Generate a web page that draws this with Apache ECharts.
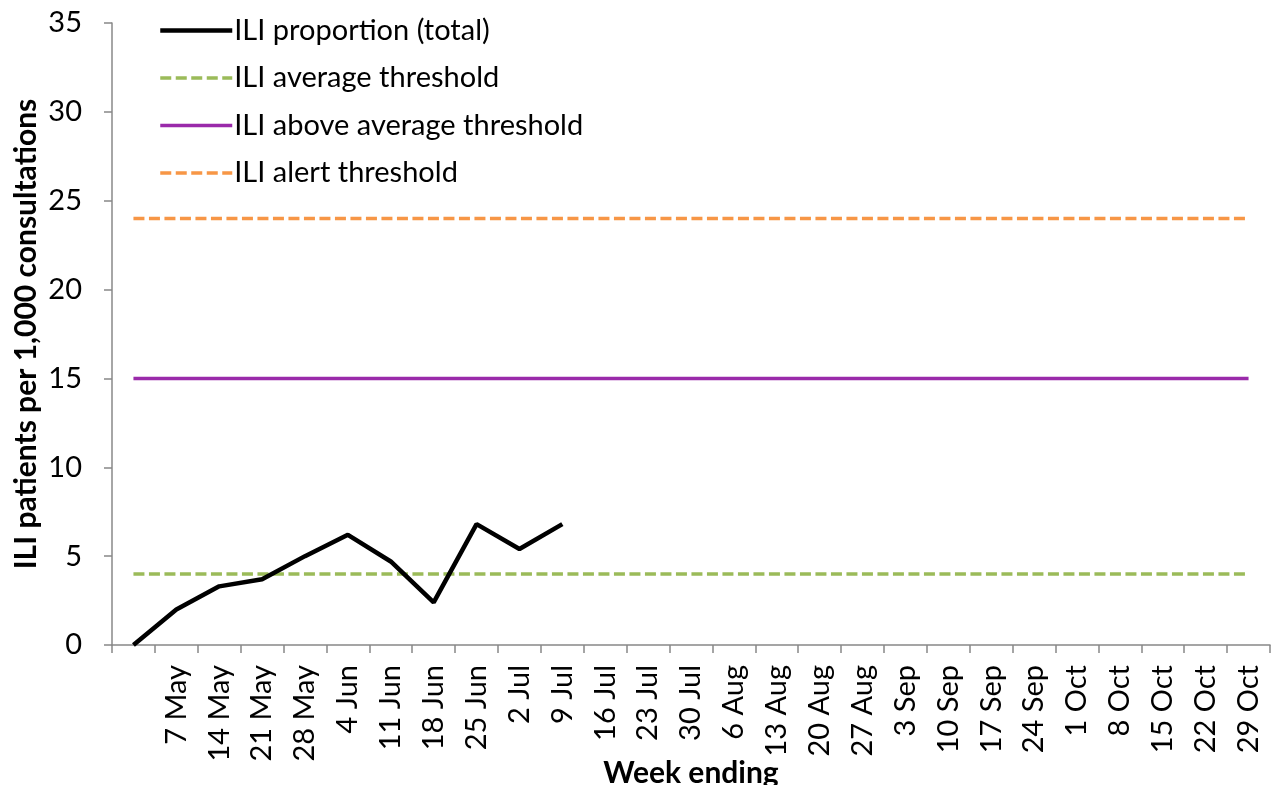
<!DOCTYPE html>
<html><head><meta charset="utf-8">
<script src="https://cdn.jsdelivr.net/npm/echarts@6/dist/echarts.min.js"></script>
<style>html,body{margin:0;padding:0;background:#fff}#c{width:1275px;height:785px}</style>
</head><body><div id="c"></div>
<script>
const weeks = ["", "7 May", "14 May", "21 May", "28 May", "4 Jun", "11 Jun", "18 Jun", "25 Jun", "2 Jul", "9 Jul", "16 Jul", "23 Jul", "30 Jul", "6 Aug", "13 Aug", "20 Aug", "27 Aug", "3 Sep", "10 Sep", "17 Sep", "24 Sep", "1 Oct", "8 Oct", "15 Oct", "22 Oct", "29 Oct"];
const iliTotal = [0, 2.0, 3.3, 3.7, 5.0, 6.2, 4.7, 2.4, 6.8, 5.4, 6.8];
const averageThreshold = 4.0;
const aboveAverageThreshold = 15.0;
const alertThreshold = 24.0;
const yTicks = [0, 5, 10, 15, 20, 25, 30, 35];

const FONT = 'Lato';
const axisGrey = '#888888';
const constSeries = v => weeks.map(() => v);

const chart = echarts.init(document.getElementById('c'), null, {renderer: 'canvas'});
chart.setOption({
  animation: false,
  backgroundColor: '#ffffff',
  textStyle: {fontFamily: FONT, color: '#000'},
  grid: {left: 112, right: 5, top: 23, bottom: 140, containLabel: false, outerBoundsMode: 'none'},
  legend: {
    orient: 'vertical', left: 153, top: 11,
    itemWidth: 72, itemHeight: 14, itemGap: 18.5,
    itemStyle: {opacity: 0},
    lineStyle: {width: 'inherit'},
    textStyle: {fontFamily: FONT, fontSize: 29, color: '#000', lineHeight: 29, padding: [0,0,0,-3]},
    data: ['ILI proportion (total)', 'ILI average threshold', 'ILI above average threshold', 'ILI alert threshold']
  },
  xAxis: {
    type: 'category', data: weeks, boundaryGap: true,
    name: 'Week ending', nameLocation: 'middle', nameGap: 113, nameMoveOverlap: false,
    nameTextStyle: {fontFamily: FONT, fontSize: 30, fontWeight: 'bold', color: '#000'},
    axisLine: {lineStyle: {color: axisGrey, width: 1.5}},
    axisTick: {show: true, length: 8, inside: false, lineStyle: {color: axisGrey, width: 1.5}},
    axisLabel: {interval: 0, rotate: 90, fontSize: 29, fontFamily: FONT, color: '#000', margin: 20},
    splitLine: {show: false}
  },
  yAxis: {
    type: 'value', min: 0, max: 35, interval: 5,
    name: 'ILI patients per 1,000 consultations', nameLocation: 'middle', nameGap: 71, nameMoveOverlap: false,
    nameTextStyle: {fontFamily: FONT, fontSize: 30, fontWeight: 'bold', color: '#000'},
    axisLine: {show: true, lineStyle: {color: axisGrey, width: 1.5}},
    axisTick: {show: true, length: 8, inside: false, lineStyle: {color: axisGrey, width: 1.5}},
    axisLabel: {fontSize: 29, fontFamily: FONT, color: '#000', margin: 30,
      formatter: v => yTicks.includes(v) ? String(v) : ''},
    splitLine: {show: false}
  },
  series: [
    {name: 'ILI proportion (total)', type: 'line', data: iliTotal, symbol: 'none', z: 10,
      lineStyle: {color: '#000000', width: 4.5}, itemStyle: {color: '#000000'}},
    {name: 'ILI average threshold', type: 'line', data: constSeries(averageThreshold), symbol: 'none', z: 3,
      lineStyle: {color: '#9BBB59', width: 3.5, type: [11, 4.5]}, itemStyle: {color: '#9BBB59'}},
    {name: 'ILI above average threshold', type: 'line', data: constSeries(aboveAverageThreshold), symbol: 'none', z: 3,
      lineStyle: {color: '#9A2AAA', width: 3.5}, itemStyle: {color: '#9A2AAA'}},
    {name: 'ILI alert threshold', type: 'line', data: constSeries(alertThreshold), symbol: 'none', z: 3,
      lineStyle: {color: '#F79646', width: 3.5, type: [11, 4.5]}, itemStyle: {color: '#F79646'}}
  ]
});
</script></body></html>
